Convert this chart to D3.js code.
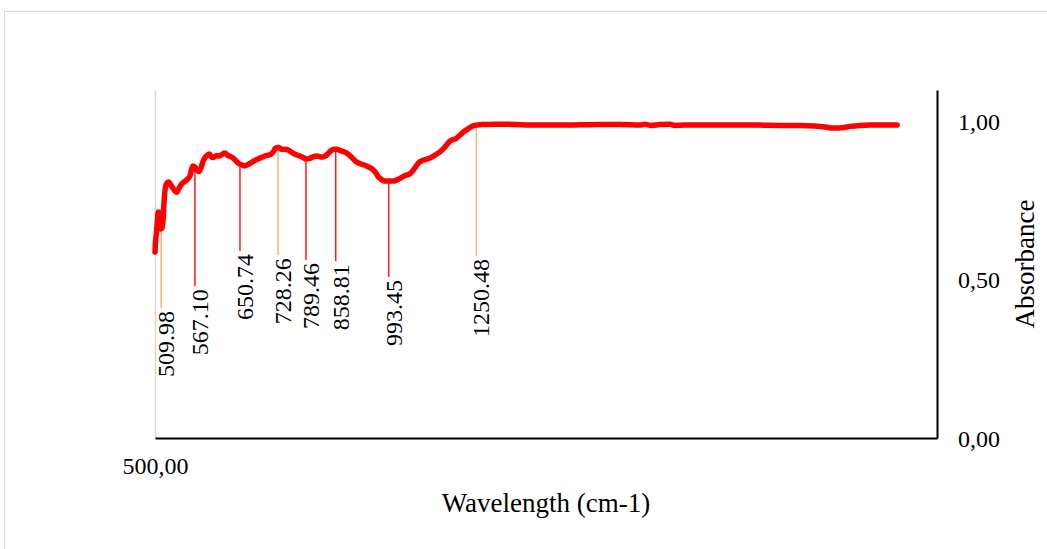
<!DOCTYPE html>
<html>
<head>
<meta charset="utf-8">
<script src="https://cdn.jsdelivr.net/npm/d3@7"></script>
<style>
  body { margin: 0; background: #ffffff; }
  text { font-family: "Liberation Serif", "Times New Roman", serif; fill: #000; }
</style>
</head>
<body>
<svg id="chart" width="1047" height="549"></svg>
<script>
// FTIR spectrum: wavenumber (cm-1) and absorbance
const wavenumbers = [
  500.0, 501.0, 502.2, 503.7, 505.2, 506.7, 508.2, 509.7, 511.4, 513.2,
  514.9, 516.7, 519.4, 522.0, 524.7, 528.2, 532.6, 536.2, 539.7, 544.1,
  549.4, 554.7, 558.3, 560.9, 563.6, 567.1, 570.6, 574.1, 577.6, 581.1,
  584.6, 589.0, 593.4, 596.9, 600.4, 603.9, 607.4, 610.9, 614.4, 618.0,
  621.5, 626.7, 632.0, 637.2, 642.5, 647.8, 653.4, 659.4, 665.5, 671.6,
  679.7, 687.8, 695.9, 704.0, 712.1, 718.1, 722.2, 726.2, 730.4, 734.6,
  740.9, 747.3, 753.6, 759.9, 766.2, 772.6, 778.9, 785.2, 789.5, 796.8,
  804.1, 815.0, 826.0, 833.3, 840.6, 847.9, 855.2, 861.0, 867.4, 875.9,
  884.5, 893.0, 899.4, 905.8, 912.2, 920.8, 929.3, 937.9, 946.4, 952.8,
  959.3, 965.7, 972.1, 978.5, 984.9, 993.5, 1005.4, 1014.4, 1023.3, 1032.3,
  1041.3, 1050.2, 1059.2, 1068.2, 1077.1, 1086.1, 1095.1, 1104.0, 1113.0, 1122.0,
  1131.0, 1139.9, 1148.9, 1157.9, 1166.8, 1175.8, 1184.8, 1193.7, 1202.7, 1211.7,
  1220.6, 1229.6, 1238.6, 1250.5, 1268, 1294, 1327, 1378, 1430, 1484,
  1539, 1615, 1694, 1775, 1859, 1881, 1903, 1947, 1991, 2014,
  2060, 2131, 2227, 2327, 2430, 2537, 2647, 2732, 2790, 2837,
  2890, 2938, 2999, 3061, 3156, 3233
];
const absorbance = [
  0.588, 0.626, 0.645, 0.683, 0.714, 0.711, 0.676, 0.661, 0.664, 0.695,
  0.752, 0.790, 0.806, 0.809, 0.803, 0.793, 0.781, 0.777, 0.790, 0.803,
  0.811, 0.819, 0.828, 0.847, 0.860, 0.857, 0.847, 0.842, 0.853, 0.872,
  0.885, 0.894, 0.898, 0.888, 0.887, 0.891, 0.893, 0.891, 0.894, 0.898,
  0.901, 0.894, 0.890, 0.885, 0.877, 0.868, 0.864, 0.860, 0.864, 0.869,
  0.877, 0.883, 0.888, 0.893, 0.896, 0.904, 0.915, 0.918, 0.918, 0.913,
  0.913, 0.912, 0.907, 0.901, 0.896, 0.893, 0.890, 0.885, 0.882, 0.883,
  0.888, 0.891, 0.888, 0.891, 0.899, 0.909, 0.913, 0.913, 0.910, 0.906,
  0.901, 0.893, 0.885, 0.877, 0.871, 0.866, 0.863, 0.858, 0.853, 0.847,
  0.838, 0.826, 0.819, 0.814, 0.812, 0.812, 0.812, 0.815, 0.820, 0.826,
  0.831, 0.834, 0.844, 0.858, 0.871, 0.877, 0.880, 0.883, 0.887, 0.893,
  0.899, 0.906, 0.915, 0.926, 0.937, 0.943, 0.945, 0.953, 0.961, 0.969,
  0.975, 0.981, 0.986, 0.989, 0.991, 0.991, 0.992, 0.991, 0.989, 0.989,
  0.989, 0.990, 0.991, 0.991, 0.989, 0.992, 0.988, 0.991, 0.992, 0.988,
  0.989, 0.989, 0.989, 0.989, 0.989, 0.988, 0.988, 0.986, 0.983, 0.980,
  0.981, 0.985, 0.988, 0.989, 0.989, 0.989
];

// Annotated bands: position, absorbance at the band, and where its leader line stops
const peakWavenumbers = [509.98, 567.10, 650.74, 728.26, 789.46, 858.81, 993.45, 1250.48];
const peakAbsorbance  = [0.661, 0.857, 0.866, 0.918, 0.882, 0.913, 0.812, 0.989];
const leaderEnds      = [0.411, 0.480, 0.591, 0.578, 0.563, 0.559, 0.509, 0.575];

const yTicks = [0, 0.5, 1.0];
const xTicks = [500];

// ---- layout ----
const W = 1047, H = 549;
const plot = { left: 155, right: 937, top: 90, bottom: 438 };
const orangeBands = new Set([509.98, 728.26, 1250.48]);

const svg = d3.select("#chart");

// comma decimal separator for the axis numbers
const locale = d3.formatLocale({ decimal: ",", thousands: ".", grouping: [3], currency: ["", ""] });
const fmt2 = locale.format(".2f");

const x = d3.scalePow().exponent(0.25).domain([500, 3500]).range([plot.left, plot.right]);
const y = d3.scaleLinear().domain([0, 1.1]).range([plot.bottom, plot.top]);

// outer chart frame
svg.append("rect")
  .attr("x", 4.5).attr("y", 11.5)
  .attr("width", W + 20).attr("height", H + 20)
  .attr("fill", "none").attr("stroke", "#d9d9d9").attr("stroke-width", 1);

// light primary vertical axis
const leftAxis = svg.append("g")
  .attr("transform", `translate(${plot.left},0)`)
  .call(d3.axisLeft(y).tickValues([]).tickSizeOuter(0));
leftAxis.select(".domain").attr("stroke", "#d9d9d9").attr("stroke-width", 1.5);

// bottom axis
const bottomAxis = svg.append("g")
  .attr("transform", `translate(0,${plot.bottom})`)
  .call(d3.axisBottom(x).tickValues(xTicks).tickSize(0).tickSizeOuter(0).tickPadding(19).tickFormat(fmt2));
bottomAxis.select(".domain").attr("stroke", "#000").attr("stroke-width", 2);
bottomAxis.selectAll("text").attr("font-size", 24).attr("font-family", null);

// right axis with absorbance ticks
const rightAxis = svg.append("g")
  .attr("transform", `translate(${plot.right},0)`)
  .call(d3.axisRight(y).tickValues(yTicks).tickSize(0).tickSizeOuter(0).tickPadding(21).tickFormat(fmt2));
rightAxis.select(".domain").attr("stroke", "#000").attr("stroke-width", 2);
rightAxis.selectAll("text").attr("font-size", 24).attr("font-family", null).attr("dy", "0.34em");

// leader lines from each band down to its label
const peaks = peakWavenumbers.map((w, i) => ({ w, a: peakAbsorbance[i], end: leaderEnds[i] }));
svg.append("g").selectAll("line").data(peaks).join("line")
  .attr("x1", d => x(d.w)).attr("x2", d => x(d.w))
  .attr("y1", d => y(d.a)).attr("y2", d => y(d.end))
  .attr("stroke", d => orangeBands.has(d.w) ? "#f4b183" : "#ff1a1a")
  .attr("stroke-width", 1.5);

svg.append("g").selectAll("text").data(peaks).join("text")
  .attr("transform", d => `translate(${x(d.w) + 13},${y(d.end) + 3}) rotate(-90)`)
  .attr("text-anchor", "end")
  .attr("font-size", 24)
  .text(d => d.w.toFixed(2));

// spectrum
const series = wavenumbers.map((w, i) => ({ w, a: absorbance[i] }));
svg.append("path")
  .datum(series)
  .attr("fill", "none")
  .attr("stroke", "#ff0000")
  .attr("stroke-width", 5.5)
  .attr("stroke-linejoin", "round")
  .attr("stroke-linecap", "round")
  .attr("d", d3.line().x(d => x(d.w)).y(d => y(d.a)).curve(d3.curveMonotoneX));

// axis titles
svg.append("text")
  .attr("x", (plot.left + plot.right) / 2).attr("y", 512)
  .attr("text-anchor", "middle").attr("font-size", 27)
  .text("Wavelength (cm-1)");

svg.append("text")
  .attr("transform", `translate(1034,${(plot.top + plot.bottom) / 2}) rotate(-90)`)
  .attr("text-anchor", "middle").attr("font-size", 27)
  .text("Absorbance");
</script>
</body>
</html>
